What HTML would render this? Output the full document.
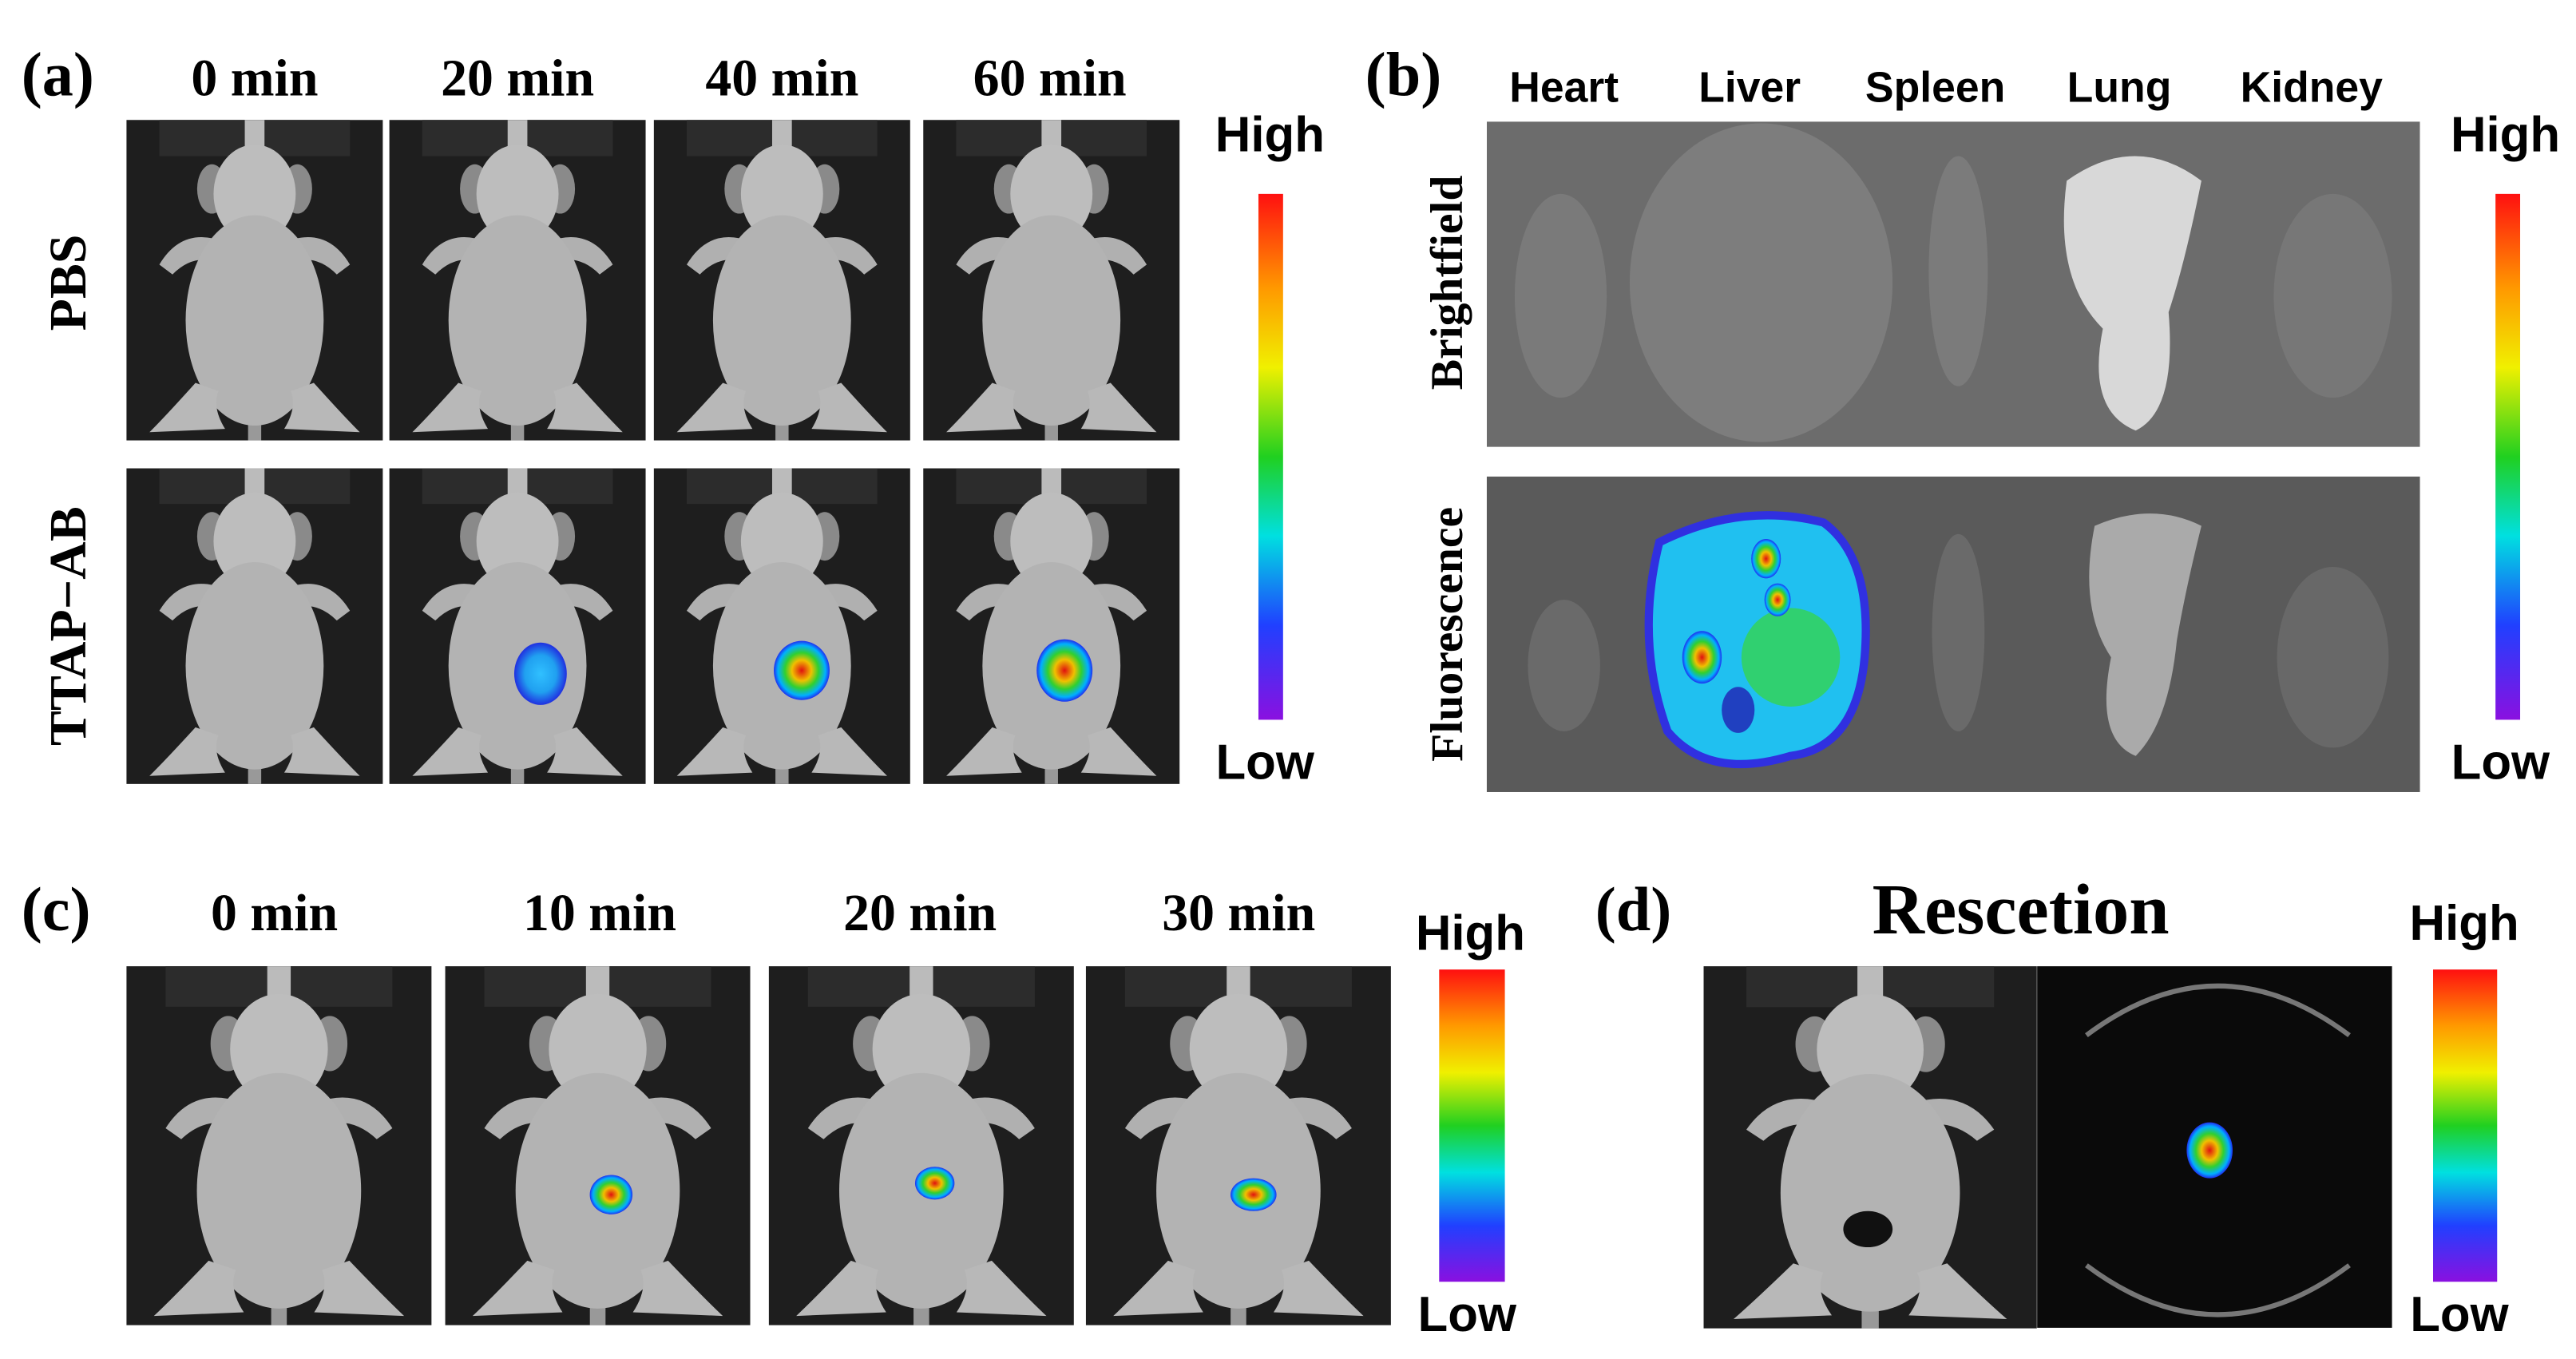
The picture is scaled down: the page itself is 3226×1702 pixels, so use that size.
<!DOCTYPE html>
<html><head><meta charset="utf-8"><style>
html,body{margin:0;padding:0;background:#fff;}
svg{display:block;}
.ser{font-family:"Liberation Serif",serif;font-weight:bold;}
.san{font-family:"Liberation Sans",sans-serif;font-weight:bold;}
</style></head><body>
<svg width="3226" height="1702" viewBox="0 0 1568 827" preserveAspectRatio="none">
<defs>
<linearGradient id="cb" x1="0" y1="0" x2="0" y2="1">
<stop offset="0" stop-color="#ff1010"/><stop offset="0.18" stop-color="#ff9900"/><stop offset="0.33" stop-color="#f0f000"/><stop offset="0.5" stop-color="#20d020"/><stop offset="0.65" stop-color="#00e0e0"/><stop offset="0.82" stop-color="#2040ff"/><stop offset="1" stop-color="#8a10e0"/>
</linearGradient>
<radialGradient id="spot"><stop offset="0" stop-color="#e01010"/><stop offset="0.35" stop-color="#f0c000"/><stop offset="0.6" stop-color="#30d030"/><stop offset="0.85" stop-color="#00b0ff"/><stop offset="1" stop-color="#2030f0"/></radialGradient>
<radialGradient id="spotb"><stop offset="0" stop-color="#30c0ff"/><stop offset="0.6" stop-color="#20a0f0"/><stop offset="1" stop-color="#2030e0"/></radialGradient>
<clipPath id="bfclip"><rect x="905" y="74" width="568" height="198"/></clipPath>
<g id="mouse">
<rect x="0" y="0" width="156" height="195" fill="#1e1e1e"/>
<rect x="20" y="0" width="116" height="22" fill="#2c2c2c"/>
<rect x="72" y="0" width="12" height="20" fill="#bbb"/>
<rect x="74" y="185" width="8" height="10" fill="#999"/>
<path d="M52 72 Q32 68 20 88 L28 94 Q40 82 54 86 Z" fill="#b0b0b0"/>
<path d="M104 72 Q124 68 136 88 L128 94 Q116 82 102 86 Z" fill="#b0b0b0"/>
<ellipse cx="52" cy="42" rx="9" ry="15" fill="#8a8a8a"/>
<ellipse cx="104" cy="42" rx="9" ry="15" fill="#8a8a8a"/>
<ellipse cx="78" cy="45" rx="25" ry="30" fill="#bdbdbd"/>
<ellipse cx="78" cy="122" rx="42" ry="64" fill="#b3b3b3"/>
<path d="M42 160 Q24 180 14 190 L60 188 Q52 175 56 165 Z" fill="#b8b8b8"/>
<path d="M114 160 Q132 180 142 190 L96 188 Q104 175 100 165 Z" fill="#b8b8b8"/>
</g>
</defs>
<rect width="1568" height="827" fill="#fff"/>

<!-- panel a -->
<text class="ser" x="13" y="58" font-size="38">(a)</text>
<g class="ser" font-size="32" text-anchor="middle">
<text x="155" y="58">0 min</text><text x="315" y="58">20 min</text><text x="476" y="58">40 min</text><text x="639" y="58">60 min</text></g>
<text class="ser" font-size="32" text-anchor="middle" transform="translate(52,172) rotate(-90)">PBS</text>
<text class="ser" font-size="32" text-anchor="middle" transform="translate(52,381) rotate(-90)">TTAP−AB</text>
<g>
<use href="#mouse" transform="translate(77,73)"/>
<use href="#mouse" transform="translate(237,73)"/>
<use href="#mouse" transform="translate(398,73)"/>
<use href="#mouse" transform="translate(562,73)"/>
</g>
<g>
<use href="#mouse" transform="translate(77,285) scale(1,0.985)"/>
<use href="#mouse" transform="translate(237,285) scale(1,0.985)"/>
<use href="#mouse" transform="translate(398,285) scale(1,0.985)"/>
<use href="#mouse" transform="translate(562,285) scale(1,0.985)"/>
<ellipse cx="329" cy="410" rx="16" ry="19" fill="url(#spotb)"/>
<ellipse cx="488" cy="408" rx="17" ry="18" fill="url(#spot)"/>
<ellipse cx="648" cy="408" rx="17" ry="19" fill="url(#spot)"/>
</g>
<rect x="766" y="118" width="15" height="320" fill="url(#cb)"/>
<text class="san" x="773" y="92" font-size="30" text-anchor="middle">High</text>
<text class="san" x="770" y="474" font-size="30" text-anchor="middle">Low</text>

<!-- panel b -->
<text class="ser" x="831" y="58" font-size="38">(b)</text>
<g class="san" font-size="26" text-anchor="middle">
<text x="952" y="62">Heart</text><text x="1065" y="62">Liver</text><text x="1178" y="62">Spleen</text><text x="1290" y="62">Lung</text><text x="1407" y="62">Kidney</text></g>
<text class="ser" font-size="28" text-anchor="middle" transform="translate(890,172) rotate(-90)">Brightfield</text>
<text class="ser" font-size="28" text-anchor="middle" transform="translate(890,386) rotate(-90)">Fluorescence</text>
<g clip-path="url(#bfclip)">
<rect x="905" y="74" width="568" height="198" fill="#6c6c6c"/>
<ellipse cx="950" cy="180" rx="28" ry="62" fill="#7a7a7a"/>
<ellipse cx="1072" cy="172" rx="80" ry="97" fill="#7d7d7d"/>
<ellipse cx="1192" cy="165" rx="18" ry="70" fill="#7b7b7b"/>
<path d="M1258 110 Q1300 80 1340 110 Q1330 160 1320 190 Q1325 250 1300 262 Q1270 250 1280 200 Q1250 170 1258 110Z" fill="#d8d8d8"/>
<ellipse cx="1420" cy="180" rx="36" ry="62" fill="#777"/>
</g>
<g>
<rect x="905" y="290" width="568" height="192" fill="#5a5a5a"/>
<ellipse cx="952" cy="405" rx="22" ry="40" fill="#6a6a6a"/>
<path d="M1010 330 Q1060 305 1110 318 Q1140 340 1135 400 Q1130 455 1090 460 Q1040 475 1015 445 Q995 390 1010 330Z" fill="#20c0f0" stroke="#3030e0" stroke-width="5"/>
<ellipse cx="1090" cy="400" rx="30" ry="30" fill="#30d070"/>
<ellipse cx="1036" cy="400" rx="12" ry="16" fill="url(#spot)"/>
<ellipse cx="1075" cy="340" rx="9" ry="12" fill="url(#spot)"/>
<ellipse cx="1082" cy="365" rx="8" ry="10" fill="url(#spot)"/>
<ellipse cx="1058" cy="432" rx="10" ry="14" fill="#2040c0"/>
<ellipse cx="1192" cy="385" rx="16" ry="60" fill="#6a6a6a"/>
<path d="M1275 320 Q1310 305 1340 320 Q1330 360 1325 390 Q1320 440 1300 460 Q1275 450 1285 400 Q1265 370 1275 320Z" fill="#aaa"/>
<ellipse cx="1420" cy="400" rx="34" ry="55" fill="#686868"/>
</g>
<rect x="1519" y="118" width="15" height="320" fill="url(#cb)"/>
<text class="san" x="1525" y="92" font-size="30" text-anchor="middle">High</text>
<text class="san" x="1522" y="474" font-size="30" text-anchor="middle">Low</text>

<!-- panel c -->
<text class="ser" x="13" y="566" font-size="38">(c)</text>
<g class="ser" font-size="32" text-anchor="middle">
<text x="167" y="566">0 min</text><text x="365" y="566">10 min</text><text x="560" y="566">20 min</text><text x="754" y="566">30 min</text></g>
<g>
<use href="#mouse" transform="translate(77,588) scale(1.19,1.12)"/>
<use href="#mouse" transform="translate(271,588) scale(1.19,1.12)"/>
<use href="#mouse" transform="translate(468,588) scale(1.19,1.12)"/>
<use href="#mouse" transform="translate(661,588) scale(1.19,1.12)"/>
<ellipse cx="372" cy="727" rx="13" ry="12" fill="url(#spot)"/>
<ellipse cx="569" cy="720" rx="12" ry="10" fill="url(#spot)"/>
<ellipse cx="763" cy="727" rx="14" ry="10" fill="url(#spot)"/>
</g>
<rect x="876" y="590" width="40" height="190" fill="url(#cb)"/>
<text class="san" x="895" y="578" font-size="30" text-anchor="middle">High</text>
<text class="san" x="893" y="810" font-size="30" text-anchor="middle">Low</text>

<!-- panel d -->
<text class="ser" x="971" y="566" font-size="38">(d)</text>
<text class="ser" x="1230" y="568" font-size="44" text-anchor="middle">Rescetion</text>
<g>
<use href="#mouse" transform="translate(1037,588) scale(1.3,1.13)"/>
<ellipse cx="1137" cy="748" rx="15" ry="11" fill="#111"/>
<rect x="1240" y="588" width="216" height="220" fill="#0a0a0a"/>
<path d="M1270 630 Q1350 570 1430 630" fill="none" stroke="#777" stroke-width="3"/>
<path d="M1270 770 Q1350 830 1430 770" fill="none" stroke="#777" stroke-width="3"/>
<ellipse cx="1345" cy="700" rx="14" ry="17" fill="url(#spot)"/>
</g>
<rect x="1481" y="590" width="39" height="190" fill="url(#cb)"/>
<text class="san" x="1500" y="572" font-size="30" text-anchor="middle">High</text>
<text class="san" x="1497" y="810" font-size="30" text-anchor="middle">Low</text>
</svg>
</body></html>
